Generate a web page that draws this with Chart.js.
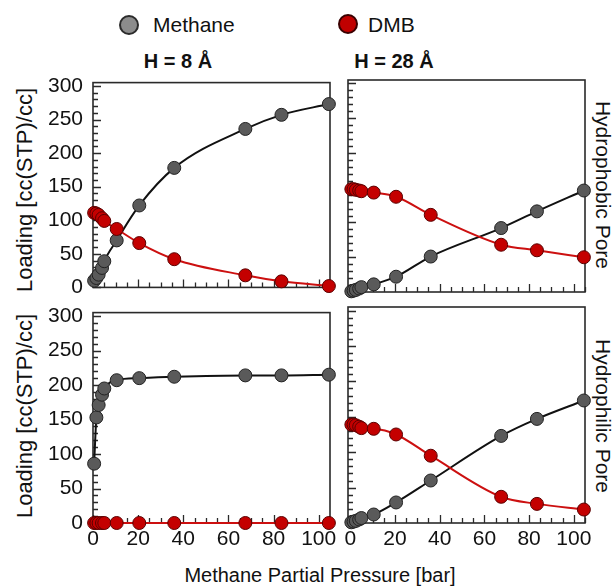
<!DOCTYPE html>
<html><head><meta charset="utf-8">
<script src="https://cdn.jsdelivr.net/npm/chart.js@4/dist/chart.umd.min.js"></script>
<style>
html,body{margin:0;padding:0;background:#fff;}
body{width:613px;height:586px;position:relative;overflow:hidden;font-family:"Liberation Sans",Arial,sans-serif;color:#111;}
canvas{position:absolute;}
.t{position:absolute;white-space:nowrap;line-height:1;}
.dot{position:absolute;width:20px;height:20px;border-radius:50%;box-sizing:border-box;border:2px solid #2b2b2b;}
</style></head><body>

<div class="dot" style="left:119px;top:15px;background:#8c8c8c;"></div>
<div class="t" style="left:153px;top:14px;font-size:21px;">Methane</div>
<div class="dot" style="left:338px;top:14px;background:#c00000;border-color:#3a0000;"></div>
<div class="t" style="left:368px;top:14px;font-size:21px;">DMB</div>

<div class="t" style="left:78px;width:200px;text-align:center;top:51px;font-size:20px;font-weight:bold;">H = 8 Å</div>
<div class="t" style="left:294px;width:200px;text-align:center;top:51px;font-size:20px;font-weight:bold;">H = 28 Å</div>

<div class="t" style="left:25px;top:190px;font-size:22px;transform:translate(-50%,-50%) rotate(-90deg);">Loading [cc(STP)/cc]</div>
<div class="t" style="left:25px;top:416px;font-size:22px;transform:translate(-50%,-50%) rotate(-90deg);">Loading [cc(STP)/cc]</div>

<div class="t" style="left:603px;top:185px;font-size:21px;transform:translate(-50%,-50%) rotate(90deg);">Hydrophobic Pore</div>
<div class="t" style="left:603px;top:416px;font-size:21px;transform:translate(-50%,-50%) rotate(90deg);">Hydrophilic Pore</div>

<div class="t" style="left:120px;width:400px;text-align:center;top:565px;font-size:20px;">Methane Partial Pressure [bar]</div>

<canvas id="cTL" width="345" height="250" style="left:0px;top:60px;"></canvas>
<canvas id="cTR" width="270" height="250" style="left:335px;top:60px;"></canvas>
<canvas id="cBL" width="345" height="275" style="left:0px;top:290px;"></canvas>
<canvas id="cBR" width="270" height="275" style="left:335px;top:290px;"></canvas>

<script>
// ---- data ----
const pressure        = [0.5, 1.5, 2.5, 4, 5, 10.5, 20.5, 36, 67.5, 83.5, 104.5];
const methaneH8Phobic  = [10, 14, 19, 29, 39, 70, 122, 178, 236, 257, 273];
const dmbH8Phobic      = [111, 110, 108, 103, 99, 87, 66, 42, 18, 9, 2];
const methaneH28Phobic = [1, 2, 3, 5, 7, 11, 22, 51, 92, 116, 146];
const dmbH28Phobic     = [148, 148, 147, 146, 145, 143, 137, 111, 68, 60, 50];
const methaneH8Philic  = [86, 153, 171, 186, 195, 207, 210, 212, 214, 214, 215];
const dmbH8Philic      = [0, 0, 0, 0, 0, 0, 0, 0, 0, 0, 0];
const methaneH28Philic = [1, 2, 3, 5, 7, 12, 29, 60, 123, 147, 173];
const dmbH28Philic     = [139, 139, 138, 136, 134, 133, 125, 95, 37, 27, 19];
const xTickLabels = [0, 20, 40, 60, 80, 100];
const yTickLabels = [0, 50, 100, 150, 200, 250, 300];
const xMinorStep = 5, yMinorStep = 10;

const FONT = '"Liberation Sans", Arial, sans-serif';

const frame = {
  id: 'frame',
  beforeDatasetsDraw(chart) {
    const {ctx, chartArea: a, scales: {x, y}} = chart;
    ctx.save();
    ctx.strokeStyle = '#2a2a2a';
    ctx.lineWidth = 1.6;
    ctx.strokeRect(a.left, a.top, a.right - a.left, a.bottom - a.top);
    ctx.lineWidth = 1.3;
    ctx.beginPath();
    for (let v = 0; v <= x.max; v += xMinorStep) {
      const px = Math.round(x.getPixelForValue(v)) + 0.5;
      const L = xTickLabels.includes(v) ? 8 : 5;
      ctx.moveTo(px, a.bottom); ctx.lineTo(px, a.bottom - L);
    }
    for (let v = 0; v <= yTickLabels[yTickLabels.length - 1]; v += yMinorStep) {
      const py = Math.round(y.getPixelForValue(v)) + 0.5;
      const L = yTickLabels.includes(v) ? 8 : 5;
      ctx.moveTo(a.left, py); ctx.lineTo(a.left + L, py);
    }
    ctx.stroke();
    ctx.restore();
  }
};

function pts(vals) { return pressure.map((p, i) => ({x: p, y: vals[i]})); }

function makeChart(id, methane, dmb, o) {
  new Chart(document.getElementById(id), {
    type: 'line',
    data: {
      datasets: [
        {label: 'DMB', data: pts(dmb), borderColor: '#cc1010', backgroundColor: '#c40000',
         pointBackgroundColor: '#c40000', pointBorderColor: '#5a0000', borderWidth: 2,
         pointRadius: 6.5, pointBorderWidth: 1, clip: false, cubicInterpolationMode: 'monotone'},
        {label: 'Methane', data: pts(methane), borderColor: '#111', backgroundColor: '#5a5a5a',
         pointBackgroundColor: '#5a5a5a', pointBorderColor: '#222', borderWidth: 2,
         pointRadius: 6.5, pointBorderWidth: 1, clip: false, cubicInterpolationMode: 'monotone'}
      ]
    },
    options: {
      responsive: false, animation: false, events: [],
      layout: {padding: o.pad},
      plugins: {legend: {display: false}, tooltip: {enabled: false}},
      scales: {
        x: {type: 'linear', min: o.xmin, max: 105,
            grid: {display: false, drawTicks: false}, border: {display: false},
            afterBuildTicks: s => { s.ticks = xTickLabels.map(v => ({value: v})); },
            ticks: {display: o.showX, font: {size: 21, family: FONT}, color: '#111', padding: 4,
                    maxRotation: 0, autoSkip: false},
            afterFit: s => { s.height = o.xH; }},
        y: {type: 'linear', min: 0, max: 305,
            grid: {display: false, drawTicks: false}, border: {display: false},
            afterBuildTicks: s => { s.ticks = yTickLabels.map(v => ({value: v})); },
            ticks: {display: o.showY, font: {size: 21, family: FONT}, color: '#111', padding: 10,
                    autoSkip: false},
            afterFit: s => { s.width = o.yW; }}
      }
    },
    plugins: [frame]
  });
}

makeChart('cTL', methaneH8Phobic, dmbH8Phobic,
  {pad: {left: 0, top: 20, right: 15, bottom: 0}, xmin: 0, showX: false, showY: true, yW: 93, xH: 18});
makeChart('cTR', methaneH28Phobic, dmbH28Phobic,
  {pad: {left: 0, top: 20, right: 20, bottom: 0}, xmin: -1, showX: false, showY: false, yW: 13, xH: 18});
makeChart('cBL', methaneH8Philic, dmbH8Philic,
  {pad: {left: 0, top: 17, right: 15, bottom: 0}, xmin: 0, showX: true, showY: true, yW: 93, xH: 42});
makeChart('cBR', methaneH28Philic, dmbH28Philic,
  {pad: {left: 0, top: 17, right: 20, bottom: 0}, xmin: -1, showX: true, showY: false, yW: 13, xH: 42});
</script>
</body></html>
